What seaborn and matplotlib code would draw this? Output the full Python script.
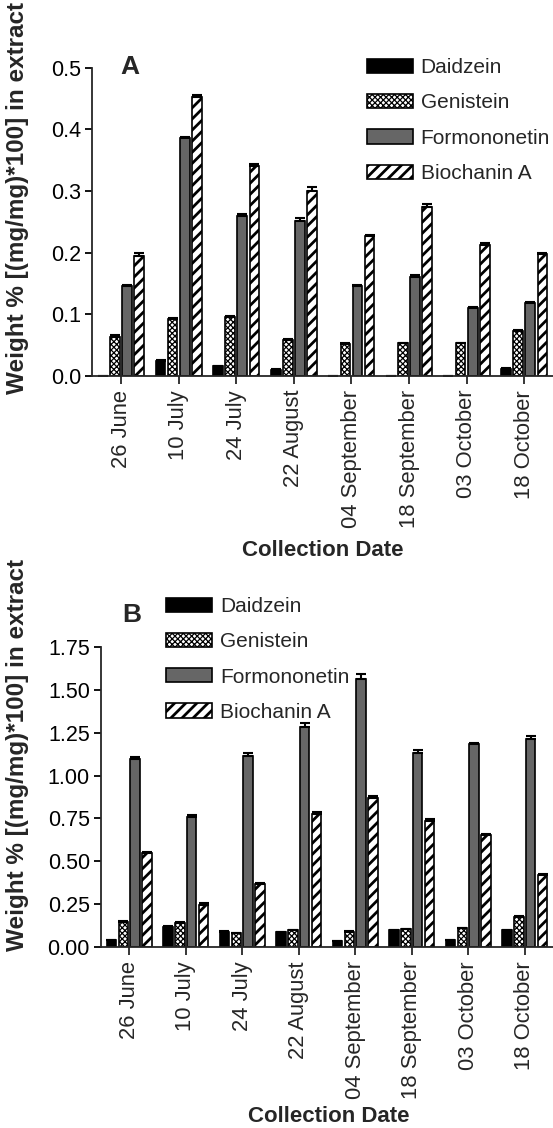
import numpy as np
import pandas as pd
import seaborn as sns
import matplotlib.pyplot as plt
from matplotlib.patches import Patch

dates = ['26 June', '10 July', '24 July', '22 August', '04 September',
         '18 September', '03 October', '18 October']
compounds = ['Daidzein', 'Genistein', 'Formononetin', 'Biochanin A']

# panel A
a_daidzein = [0.0, 0.025, 0.016, 0.010, 0.0, 0.0, 0.0, 0.012]
a_genistein = [0.064, 0.092, 0.095, 0.058, 0.052, 0.053, 0.053, 0.073]
a_formononetin = [0.146, 0.386, 0.260, 0.251, 0.146, 0.161, 0.110, 0.118]
a_biochanin = [0.195, 0.452, 0.340, 0.300, 0.227, 0.274, 0.212, 0.197]
a_err_daidzein = [0.0, 0.001, 0.001, 0.001, 0.0, 0.0, 0.0, 0.001]
a_err_genistein = [0.002, 0.002, 0.002, 0.002, 0.001, 0.001, 0.001, 0.002]
a_err_formononetin = [0.002, 0.002, 0.002, 0.005, 0.002, 0.002, 0.002, 0.002]
a_err_biochanin = [0.005, 0.003, 0.004, 0.007, 0.002, 0.004, 0.004, 0.003]

# panel B
b_daidzein = [0.042, 0.120, 0.091, 0.087, 0.035, 0.099, 0.041, 0.099]
b_genistein = [0.147, 0.141, 0.081, 0.099, 0.089, 0.104, 0.110, 0.174]
b_formononetin = [1.099, 0.759, 1.114, 1.285, 1.563, 1.134, 1.182, 1.211]
b_biochanin = [0.550, 0.249, 0.366, 0.776, 0.869, 0.737, 0.656, 0.418]
b_err_daidzein = [0.003, 0.005, 0.004, 0.004, 0.002, 0.004, 0.003, 0.004]
b_err_genistein = [0.005, 0.005, 0.004, 0.004, 0.004, 0.004, 0.004, 0.006]
b_err_formononetin = [0.010, 0.010, 0.015, 0.020, 0.030, 0.015, 0.006, 0.020]
b_err_biochanin = [0.006, 0.006, 0.006, 0.010, 0.012, 0.008, 0.006, 0.008]

sns.set_style('ticks')
plt.rcParams['font.family'] = ['Liberation Sans', 'DejaVu Sans']
plt.rcParams['hatch.linewidth'] = 2.0

styles = {
    'Daidzein': dict(facecolor='black', hatch=None, hlw=1.0),
    'Genistein': dict(facecolor='white', hatch='xxxxxx', hlw=0.9),
    'Formononetin': dict(facecolor='#666666', hatch=None, hlw=1.0),
    'Biochanin A': dict(facecolor='white', hatch='///', hlw=2.0),
}


def make_df(values):
    rows = []
    for comp, vals in zip(compounds, values):
        for d, v in zip(dates, vals):
            rows.append({'date': d, 'compound': comp, 'value': v})
    return pd.DataFrame(rows)


def style_patch(p, comp):
    st = styles[comp]
    p.set_facecolor(st['facecolor'])
    p.set_edgecolor('black')
    p.set_linewidth(1.2)
    if st['hatch']:
        p.set_hatch(st['hatch'])
        if hasattr(p, 'set_hatch_linewidth'):
            p.set_hatch_linewidth(st['hlw'])


def draw_panel(ax, values, errors, ymax, ystep, fmt, leg_anchor):
    df = make_df(values)
    sns.barplot(data=df, x='date', y='value', hue='compound', order=dates,
                hue_order=compounds, width=0.84, gap=0.2, errorbar=None,
                legend=False, ax=ax)
    for cont, comp, err in zip(ax.containers, compounds, errors):
        xs, tops = [], []
        for p in cont.patches:
            style_patch(p, comp)
            xs.append(p.get_x() + p.get_width() / 2)
            tops.append(p.get_height())
        ax.errorbar(xs, tops, yerr=[np.zeros(len(err)), err], fmt='none',
                    ecolor='black', elinewidth=1.5, capsize=3.5, capthick=1.5)
    ax.set_xlim(-0.5, 7.5)
    ax.set_ylim(0, ymax)
    ax.set_yticks(np.arange(0, ymax + ystep / 2, ystep))
    ax.yaxis.set_major_formatter(plt.FormatStrFormatter(fmt))
    ax.set_xlabel('')
    ax.set_ylabel('')
    sns.despine(ax=ax)
    for s in ['left', 'bottom']:
        ax.spines[s].set_linewidth(1.3)
    ax.tick_params(axis='x', labelrotation=90, labelsize=15.8, length=6,
                   width=1.3, pad=4)
    ax.tick_params(axis='y', labelsize=15.5, length=5, width=1.3, pad=3,
                   colors='black')
    handles = []
    for comp in compounds:
        st = styles[comp]
        h = Patch(facecolor=st['facecolor'], edgecolor='black',
                  hatch=st['hatch'], linewidth=1.2, label=comp)
        handles.append(h)
    leg = ax.legend(handles=handles, loc='upper left', bbox_to_anchor=leg_anchor,
                    frameon=False, fontsize=15.0, handlelength=2.2,
                    handleheight=0.68, labelspacing=0.78, handletextpad=0.38,
                    borderaxespad=0, borderpad=0)
    for h, comp in zip(leg.legend_handles, compounds):
        if hasattr(h, 'set_hatch_linewidth'):
            h.set_hatch_linewidth(styles[comp]['hlw'])


fig = plt.figure(figsize=(5.53, 11.28), dpi=100)
ax1 = fig.add_axes([92.3 / 553, 1 - 376 / 1128, 460.7 / 553, 308.5 / 1128])
ax2 = fig.add_axes([101 / 553, 1 - 947.3 / 1128, 452 / 553, 300.6 / 1128])

draw_panel(ax1, [a_daidzein, a_genistein, a_formononetin, a_biochanin],
           [a_err_daidzein, a_err_genistein, a_err_formononetin, a_err_biochanin],
           0.5, 0.1, '%.1f', (0.596, 1.03))
draw_panel(ax2, [b_daidzein, b_genistein, b_formononetin, b_biochanin],
           [b_err_daidzein, b_err_genistein, b_err_formononetin, b_err_biochanin],
           1.75, 0.25, '%.2f', (0.144, 1.165))

ylab = 'Weight % [(mg/mg)*100] in extract'
fig.text(18 / 553, 1 - 198 / 1128, ylab, rotation=90, ha='center', va='center',
         fontsize=17.5, fontweight='bold')
fig.text(18 / 553, 1 - 755 / 1128, ylab, rotation=90, ha='center', va='center',
         fontsize=17.5, fontweight='bold')
fig.text(323 / 553, 1 - 550 / 1128, 'Collection Date', ha='center', va='center',
         fontsize=16, fontweight='bold')
fig.text(329 / 553, 1 - 1117 / 1128, 'Collection Date', ha='center', va='center',
         fontsize=16, fontweight='bold')
fig.text(130 / 553, 1 - 67 / 1128, 'A', ha='center', va='center',
         fontsize=19, fontweight='bold')
fig.text(132 / 553, 1 - 615 / 1128, 'B', ha='center', va='center',
         fontsize=19, fontweight='bold')

fig.savefig('out.png', dpi=100)
